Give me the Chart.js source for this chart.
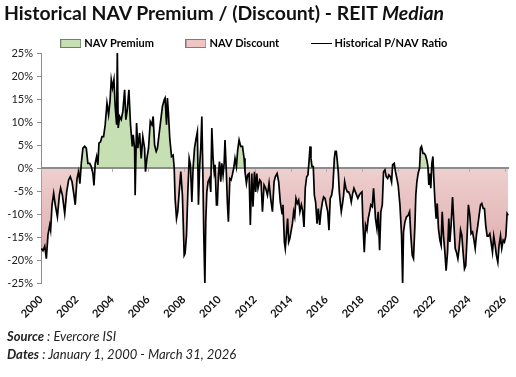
<!DOCTYPE html>
<html>
<head>
<meta charset="utf-8">
<script src="https://cdn.jsdelivr.net/npm/chart.js@4.4.0/dist/chart.umd.min.js"></script>
<style>
  html, body { margin: 0; padding: 0; background: #fff; }
  #wrap { position: relative; width: 516px; height: 377px; overflow: hidden; }
  #chart { position: absolute; left: 0; top: 0; }
  #title { position: absolute; left: 4px; top: 1px; font: bold 19px Lato, sans-serif; color: #111; white-space: nowrap; transform-origin: left top; }
  .note { position: absolute; left: 7px; font: italic 13px Lato, sans-serif; color: #222; white-space: nowrap; }
</style>
</head>
<body>
<div id="wrap">
  <canvas id="chart" width="516" height="377"></canvas>
  <div id="title">Historical NAV Premium / (Discount) - REIT <i>Median</i></div>
  <div class="note" style="top:328px"><b>Source</b> : Evercore ISI</div>
  <div class="note" style="top:346px"><b>Dates</b> : January 1, 2000 - March 31, 2026</div>
</div>
<script>
// decimal years of each reading
const years = [
  2000.02, 2000.11, 2000.21, 2000.30, 2000.39, 2000.49, 2000.54, 2000.62, 2000.71, 2000.80, 2000.92,
  2001.03, 2001.10, 2001.20, 2001.33, 2001.44, 2001.55, 2001.64, 2001.74, 2001.85, 2001.92,
  2002.02, 2002.11, 2002.18, 2002.26, 2002.35, 2002.45, 2002.54, 2002.63, 2002.73, 2002.82, 2002.91, 2002.97,
  2003.04, 2003.12, 2003.19, 2003.25, 2003.34, 2003.42, 2003.51, 2003.60, 2003.70, 2003.79, 2003.87, 2003.94,
  2004.01, 2004.09, 2004.16, 2004.24, 2004.28, 2004.33, 2004.41, 2004.50, 2004.59, 2004.69, 2004.76, 2004.84, 2004.93,
  2005.02, 2005.12, 2005.17, 2005.25, 2005.28, 2005.36, 2005.43, 2005.53, 2005.62, 2005.71, 2005.81, 2005.86, 2005.94,
  2006.03, 2006.13, 2006.22, 2006.29, 2006.37, 2006.46, 2006.53, 2006.63, 2006.72, 2006.81, 2006.91, 2006.96,
  2007.04, 2007.09, 2007.15, 2007.22, 2007.32, 2007.41, 2007.47, 2007.52, 2007.60, 2007.67, 2007.75, 2007.84, 2007.93,
  2008.03, 2008.08, 2008.16, 2008.23, 2008.31, 2008.38, 2008.46, 2008.53, 2008.61, 2008.70, 2008.77, 2008.83, 2008.90, 2008.96,
  2009.02, 2009.07, 2009.13, 2009.19, 2009.24, 2009.30, 2009.37, 2009.45, 2009.52, 2009.58, 2009.65, 2009.71, 2009.76, 2009.84, 2009.89, 2009.95,
  2010.01, 2010.08, 2010.14, 2010.21, 2010.27, 2010.32, 2010.40, 2010.45, 2010.51, 2010.59, 2010.66, 2010.73, 2010.81, 2010.88, 2010.96,
  2011.03, 2011.11, 2011.20, 2011.30, 2011.39, 2011.44, 2011.52, 2011.59, 2011.67, 2011.74, 2011.82, 2011.89, 2011.97,
  2012.04, 2012.10, 2012.17, 2012.27, 2012.34, 2012.42, 2012.51, 2012.60, 2012.70, 2012.79, 2012.88, 2012.98,
  2013.07, 2013.14, 2013.24, 2013.33, 2013.42, 2013.52, 2013.57, 2013.65, 2013.70, 2013.76, 2013.83, 2013.89, 2013.95,
  2014.02, 2014.10, 2014.17, 2014.23, 2014.30, 2014.38, 2014.45, 2014.52, 2014.60, 2014.67, 2014.75, 2014.82, 2014.90, 2014.97,
  2015.03, 2015.09, 2015.14, 2015.20, 2015.27, 2015.33, 2015.40, 2015.48, 2015.55, 2015.63, 2015.70, 2015.78, 2015.85, 2015.93,
  2016.00, 2016.08, 2016.15, 2016.22, 2016.30, 2016.37, 2016.45, 2016.50, 2016.56, 2016.62, 2016.67, 2016.73, 2016.78, 2016.84, 2016.90, 2016.97,
  2017.03, 2017.10, 2017.18, 2017.25, 2017.33, 2017.40, 2017.48, 2017.55, 2017.63, 2017.70, 2017.77, 2017.85, 2017.92,
  2018.00, 2018.05, 2018.13, 2018.20, 2018.28, 2018.35, 2018.43, 2018.50, 2018.58, 2018.65, 2018.71, 2018.76, 2018.84, 2018.91, 2018.99,
  2019.06, 2019.14, 2019.21, 2019.29, 2019.36, 2019.44, 2019.51, 2019.59, 2019.66, 2019.72, 2019.81, 2019.88, 2019.96,
  2020.03, 2020.13, 2020.22, 2020.28, 2020.33, 2020.41, 2020.50, 2020.59, 2020.67, 2020.74, 2020.82, 2020.89, 2020.97,
  2021.02, 2021.08, 2021.15, 2021.23, 2021.28, 2021.34, 2021.42, 2021.49, 2021.56, 2021.64, 2021.70, 2021.75, 2021.81, 2021.86, 2021.92, 2021.98,
  2022.03, 2022.09, 2022.16, 2022.22, 2022.29, 2022.37, 2022.44, 2022.50, 2022.57, 2022.65, 2022.72, 2022.80, 2022.87, 2022.93,
  2023.00, 2023.08, 2023.15, 2023.23, 2023.30, 2023.38, 2023.45, 2023.53, 2023.60, 2023.67, 2023.75, 2023.82, 2023.90, 2023.97,
  2024.05, 2024.12, 2024.20, 2024.27, 2024.35, 2024.42, 2024.50, 2024.57, 2024.65, 2024.72, 2024.80, 2024.87, 2024.94,
  2025.02, 2025.09, 2025.17, 2025.24, 2025.32, 2025.39, 2025.47, 2025.54, 2025.62, 2025.69, 2025.77, 2025.84, 2025.92, 2025.99,
  2026.07, 2026.14, 2026.20
];

// median P/NAV premium (+) / discount (-), in %
const ratio = [
  -17.5, -18, -17, -19.7, -14.6, -12.4, -13.5, -8, -5.5, -8, -10.6,
  -5.9, -4.4, -5.9, -9.9, -5.2, -2.6, -1.9, -3, -5.9, -8,
  -2.3, -0.8, -3.4, 1, 4.3, 4.7, 4.3, 1, 1, 0.3, -1.2, -3.8,
  1, 2.5, 0.7, 5.4, 5.7, 6.8, 6.8, 9.4, 14.1, 11.6, 14.5, 19.2,
  17.4, 19.2, 13.4, 9.4, 25.4, 8.7, 11.2, 10.5, 12.3, 17, 10.5, 12.7, 17,
  9.4, 4.7, 7.2, 4.3, -5.9, 9.8, 4.3, 7.6, 2.1, 6.8, 4.3, -0.8, 2.1,
  4.3, 10.1, 9.4, 11.2, 5, 3.6, 4.3, 7.6, 10.5, 13.4, 14.8, 15.2,
  9.4, 15.2, 11.6, 6.5, 2.5, 2.8, 0, -6.6, -11, -9.5, -5.2, -0.8, -5.9,
  -19, -18.6, -14.6, -5.9, 2.1, 0.7, -7.4, 0, 4.3, 6.5, 7.9, -8, 0.7, 4.3,
  11.2, 0.7, -14.6, -25.2, -11.7, -5.2, -3, -2.3, -5.2, 8.7, 2.1, -0.8, 0.7, -8, -8, -1.5,
  1.4, -3, 1, -1.5, 1, 6.1, -1.5, -7.4, -11.7, -2.3, -2.6, -1.5, 0, 2.1, 0.3,
  3.9, 6.1, 4.7, 4.7, 2.1, -0.8, -3.3, -1.5, -1.2, -12.4, -1.2, -8.4, -0.8,
  -5.2, -1.2, -4.4, -2.6, -3, -9.5, -3.7, -4.4, -5.9, -3.3, -6.6, -9.5,
  -3, -1.9, -1.2, -3, -7.4, -9.9, -8, -16.1, -17.5, -14.6, -11, -16.1, -15.4,
  -13.9, -12.1, -9.5, -10.6, -6.6, -7.7, -7, -9.5, -8, -9.2, -12.8, -4.4, -1.9, -1.5,
  1.4, 4.7, 2.1, 0.3, 0.3, -5.9, -7.4, -12.1, -8.8, -12.4, -9.5, -7.4, -6.3, -6.6,
  -8, -9.5, -13.5, -6.6, -5.9, -4.1, 2.1, 3.6, 3.6, 1.4, -0.8, -5.2, -7.4, -9.5, -8, -5.9,
  -3, -4.4, -5.2, -5.2, -5.9, -7.4, -5.5, -4.4, -5.2, -5.9, -6.6, -5.9, -5.5,
  -5.2, -11.7, -18.3, -12.4, -13.5, -11, -9.5, -8, -8.4, -4.4, -8, -11, -13.2, -9.5, -17.9,
  -9.5, -8, -0.8, -0.4, -1.9, -2.3, -1.5, -1.9, -3, 0.7, 1, -0.8, -2.3,
  -3.7, -8, -14.6, -25.2, -13.9, -11.7, -10.6, -10.3, -9.5, -14.6, -19, -19.7, -12.4,
  -5.9, -3, -1.2, 0, 4.3, 4.7, 3.2, 3.2, 2.8, 1.7, 0.3, -3.7, -1.2, -4.4, 1, 2.5,
  -2.3, -7, -11, -7.7, -13.2, -15.7, -16.8, -9.5, -14.6, -18.3, -22.3, -18.3, -11, -16.1,
  -12.4, -6.3, -11.7, -17.5, -18.3, -19.7, -17.5, -13.5, -14.6, -18.3, -21.9, -21.2, -14.6, -8,
  -10.3, -14.3, -13.9, -15.4, -17.5, -14.6, -12.4, -10.3, -8, -7.7, -8.8, -8.8, -12.4,
  -14.8, -14.8, -14.3, -16.1, -18.3, -14.8, -16.8, -19, -20.5, -16.8, -14.8, -17.5, -15.7, -16.1,
  -14.8, -9.9, -10.3
];

const legendNames = ["NAV Premium", "NAV Discount", "Historical P/NAV Ratio"];
const xFirst = 2000, xLast = 2026.25, xStep = 2;
const yMin = -25, yMax = 25, yStep = 5;

const premiumColor = "#c6e0b4";
const discountTop = "#eecfcf";
const discountBottom = "#dba3a3";
const axisGray = "#8c8c8c";

// small legend swatches
function swatch(fill, stroke, isLine) {
  const c = document.createElement("canvas");
  c.width = 21; c.height = 9;
  const g = c.getContext("2d");
  if (isLine) {
    g.fillStyle = "#000";
    g.fillRect(0, 4, 21, 1);
  } else {
    g.fillStyle = fill;
    g.fillRect(0, 0, 21, 9);
    g.strokeStyle = stroke;
    g.lineWidth = 1;
    g.strokeRect(0.5, 0.5, 20, 8);
  }
  return c;
}
const swatches = [
  swatch(premiumColor, "#6f7f66"),
  swatch("#efc4c4", "#8a7676"),
  swatch(null, null, true)
];

// zero line and small ticks drawn over the fills, under the line
const zeroLine = {
  id: "zeroLine",
  beforeDatasetDraw(chart) {
    const { ctx, chartArea, scales: { x, y } } = chart;
    const y0 = y.getPixelForValue(0);
    ctx.save();
    ctx.strokeStyle = axisGray;
    ctx.lineWidth = 2;
    ctx.beginPath();
    ctx.moveTo(chartArea.left, y0);
    ctx.lineTo(chartArea.right, y0);
    ctx.stroke();
    ctx.lineWidth = 1;
    ctx.strokeStyle = "#b0b0b0";
    x.ticks.forEach(t => {
      const px = Math.round(x.getPixelForValue(t.value)) + 0.5;
      ctx.beginPath();
      ctx.moveTo(px, y0 + 1);
      ctx.lineTo(px, y0 + 4);
      ctx.stroke();
    });
    ctx.restore();
  }
};

// pull the plot up under the legend row
const legendTrim = {
  id: "legendTrim",
  beforeInit(chart) {
    const fit = chart.legend.fit;
    chart.legend.fit = function () {
      fit.call(this);
      this.height -= 6;
    };
  }
};

const points = years.map((yr, i) => ({ x: yr, y: ratio[i] }));

new Chart(document.getElementById("chart"), {
  type: "line",
  data: {
    datasets: [
      {
        label: legendNames[2],
        data: points,
        borderColor: "#000",
        borderWidth: 1.7,
        pointRadius: 0,
        tension: 0,
        fill: { target: "origin", above: premiumColor },
        backgroundColor(context) {
          const chart = context.chart;
          const y = chart.scales.y;
          if (!chart.chartArea || !y) return discountTop;
          const g = chart.ctx.createLinearGradient(0, y.getPixelForValue(0), 0, y.getPixelForValue(yMin));
          g.addColorStop(0, discountTop);
          g.addColorStop(1, discountBottom);
          return g;
        }
      }
    ]
  },
  options: {
    responsive: false,
    animation: false,
    layout: { padding: { top: 4, left: 0, right: 6, bottom: 50 } },
    plugins: {
      tooltip: { enabled: false },
      legend: {
        display: true,
        labels: {
          usePointStyle: true,
          pointStyleWidth: 16,
          boxHeight: 11,
          padding: 34,
          color: "#111",
          font: { family: "Lato", size: 11, weight: "bold" },
          generateLabels: () => legendNames.map((text, i) => ({
            text,
            pointStyle: swatches[i],
            fillStyle: "transparent",
            strokeStyle: "transparent",
            lineWidth: 0,
            hidden: false,
            datasetIndex: 0
          }))
        }
      }
    },
    scales: {
      x: {
        type: "linear",
        min: xFirst,
        max: xLast,
        afterFit(scale) { scale.height = 44; },
        grid: { display: false },
        border: { display: false },
        ticks: {
          stepSize: xStep,
          includeBounds: false,
          autoSkip: false,
          maxRotation: 45,
          minRotation: 45,
          padding: 2,
          color: "#111",
          font: { family: "Lato", size: 11, weight: "bold" },
          callback: v => String(v)
        }
      },
      y: {
        min: yMin,
        max: yMax,
        afterFit(scale) { scale.width = 41; },
        grid: {
          color: "transparent",
          drawTicks: true,
          tickLength: 4,
          tickColor: axisGray
        },
        border: { display: true, color: axisGray },
        ticks: {
          stepSize: yStep,
          padding: 4,
          color: "#222",
          font: { family: "Lato", size: 11 },
          callback: v => v + "%"
        }
      }
    }
  },
  plugins: [legendTrim, zeroLine]
});

// squeeze the title to the reference width
const title = document.getElementById("title");
const w = title.getBoundingClientRect().width;
title.style.transform = "scaleX(" + (440 / w) + ")";
</script>
</body>
</html>
